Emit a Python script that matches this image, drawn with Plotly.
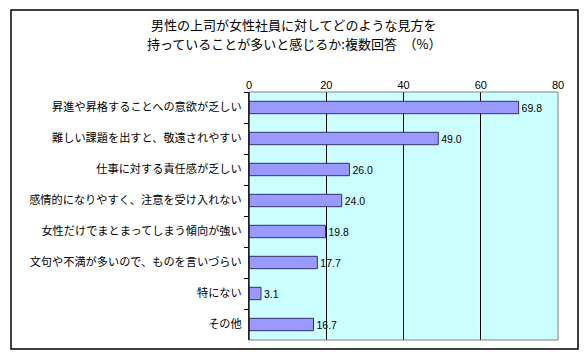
import plotly.graph_objects as go

categories = [
    "昇進や昇格することへの意欲が乏しい",
    "難しい課題を出すと、敬遠されやすい",
    "仕事に対する責任感が乏しい",
    "感情的になりやすく、注意を受け入れない",
    "女性だけでまとまってしまう傾向が強い",
    "文句や不満が多いので、ものを言いづらい",
    "特にない",
    "その他",
]
values = [69.8, 49.0, 26.0, 24.0, 19.8, 17.7, 3.1, 16.7]
x_ticks = [0, 20, 40, 60, 80]
title_lines = ["男性の上司が女性社員に対してどのような見方を", "持っていることが多いと感じるか:複数回答　（%）"]

FONT = "Noto Sans CJK JP, Arial, sans-serif"

# page body has 8px margin; figure sized to fit window
W, H = 572, 345
L, T, PW, PH = 241, 84, 309, 248

fig = go.Figure()
fig.add_trace(go.Bar(
    y=categories,
    x=values,
    orientation="h",
    width=0.4,
    marker=dict(color="#9999FF", line=dict(color="#333366", width=1)),
    text=[f"{v:.1f}" for v in values],
    textposition="outside",
    textfont=dict(family="Arial, sans-serif", size=10.5, color="#000000"),
    cliponaxis=False,
    hoverinfo="skip",
))

def px_x(x):
    return (x - L) / PW

def px_y(y):
    return (T + PH - y) / PH

fig.update_layout(
    width=W, height=H,
    margin=dict(l=L, r=W - L - PW, t=T, b=H - T - PH, autoexpand=False),
    paper_bgcolor="#FFFFFF",
    plot_bgcolor="#CCFFFF",
    showlegend=False,
    font=dict(family=FONT, size=11, color="#000000"),
    xaxis=dict(
        range=[0, 80], side="top", tickvals=x_ticks,
        ticktext=[str(t) for t in x_ticks],
        showgrid=True, gridcolor="#000000", gridwidth=1,
        zeroline=False, showline=False, ticks="",
        tickfont=dict(family="Arial, sans-serif", size=11),
        fixedrange=True,
    ),
    yaxis=dict(
        autorange="reversed", showgrid=False, zeroline=False,
        showline=True, linecolor="#000000", linewidth=1,
        ticks="outside", tickson="boundaries", ticklen=4, tickcolor="#000000",
        ticklabelstandoff=4,
        tickfont=dict(family=FONT, size=11.2),
        fixedrange=True,
    ),
    shapes=[
        dict(type="rect", xref="paper", yref="paper", x0=0, x1=1, y0=0, y1=1,
             line=dict(color="#808080", width=1), fillcolor="rgba(0,0,0,0)", layer="above"),
        dict(type="line", xref="paper", yref="paper", x0=0, x1=0, y0=0, y1=1,
             line=dict(color="#000000", width=1), layer="above"),
        dict(type="rect", xref="paper", yref="paper",
             x0=px_x(3), x1=px_x(570), y0=px_y(341), y1=px_y(2),
             line=dict(color="#000000", width=1.5), fillcolor="rgba(0,0,0,0)"),
    ],
    annotations=[
        dict(text=title_lines[0], xref="paper", yref="paper",
             x=px_x(286), y=px_y(17), xanchor="center", yanchor="middle",
             showarrow=False, font=dict(family=FONT, size=13, color="#000000")),
        dict(text=title_lines[1], xref="paper", yref="paper",
             x=px_x(286), y=px_y(35), xanchor="center", yanchor="middle",
             showarrow=False, font=dict(family=FONT, size=13, color="#000000")),
    ],
)

fig.write_html("out.html")
